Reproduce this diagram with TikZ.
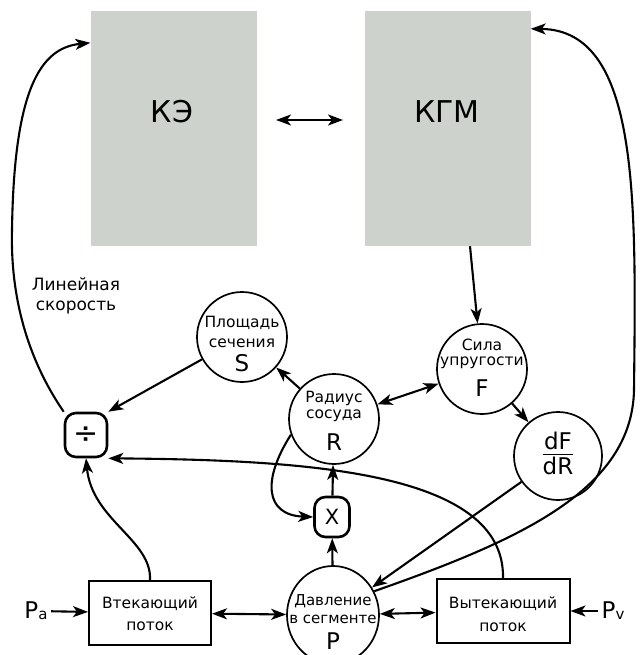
\documentclass[tikz,border=0pt]{standalone}
\usepackage{fontspec}
\setmainfont{DejaVu Sans}
\usetikzlibrary{arrows.meta,shapes.geometric}
\definecolor{boxgray}{RGB}{206,210,204}
\tikzset{
  tip/.tip={Stealth[length=15pt,width=11pt,inset=4pt]},
  conn/.style={line width=2.1pt, -tip},
  dconn/.style={line width=2.1pt, tip-tip},
  circ/.style={circle, draw, line width=1.7pt, minimum size=90pt, inner sep=0pt},
  gbox/.style={fill=boxgray, draw=none, minimum width=166pt, minimum height=235pt, inner sep=0pt},
  flow/.style={rectangle, draw, line width=2pt, minimum width=122pt, minimum height=64pt},
  op/.style={rectangle, rounded corners=11pt, draw, line width=2.6pt, inner sep=0pt},
  txt/.style={inner sep=0pt, font=\fontsize{15.5}{15.5}\selectfont},
  ftxt/.style={inner sep=0pt, font=\fontsize{15.5}{15.5}\selectfont},
  ptxt/.style={inner sep=0pt, font=\fontsize{15}{15}\selectfont},
  letter/.style={inner sep=0pt, font=\fontsize{23}{23}\selectfont},
}
\begin{document}
\begin{tikzpicture}[x=1pt,y=-1pt]
\useasboundingbox (0,0) rectangle (640,655);
% grey boxes
\node[gbox] (KE) at (173.5,128.5) {};
\node[font=\fontsize{30}{30}\selectfont] (KEt) at (172,112) {КЭ};
\node[gbox] (KGM) at (447.5,128.5) {};
\node[font=\fontsize{30}{30}\selectfont] (KGMt) at (447,112) {КГМ};
\coordinate (ke1) at (276,120);
\coordinate (ke2) at (343,120);
\draw[dconn] (ke1) -- (ke2);

% circles
\node[circ] (S) at (242,337) {};
\node[txt] (S1) at (242,323) {Площадь};
\node[txt] (S2) at (242,343) {сечения};
\node[letter] (S3) at (242,363) {S};

\node[circ] (R) at (334,419) {};
\node[txt] (R1) at (334,398) {Радиус};
\node[txt] (R2) at (334,416) {сосуда};
\node[letter] (R3) at (334,442) {R};

\node[circ] (F) at (482,369) {};
\node[txt] (F1) at (482,345) {Сила};
\node[txt] (F2) at (482,363) {упругости};
\node[letter] (F3) at (482,388) {F};

\node[circ, minimum size=88pt] (D) at (558,456) {};
\node[font=\fontsize{23}{23}\selectfont, inner sep=0pt] (Dt) at (558,457)
  {\begin{tabular}{@{}c@{}}dF\\[-3pt]\hline\noalign{\vskip3pt}dR\end{tabular}};

\node[ellipse, draw, line width=1.7pt, minimum width=92pt, minimum height=98pt, inner sep=0pt] (P) at (333,615) {};
\node[ptxt] (P1) at (333,601) {Давление};
\node[ptxt] (P2) at (333,619) {в сегменте};
\node[letter] (P3) at (333,641) {P};

% operator boxes
\node[op, minimum width=42pt, minimum height=44pt, font=\fontsize{30}{30}\selectfont] (DIV) at (86,435) {÷};
\node[op, minimum width=35pt, minimum height=40pt, font=\fontsize{21}{21}\selectfont] (X) at (332,517) {X};

% flow boxes
\node[flow] (IN) at (150,613) {};
\node[ftxt] (IN1) at (150,604) {Втекающий};
\node[ftxt] (IN2) at (150,626) {поток};
\node[flow, minimum width=133pt] (OUT) at (503,611) {};
\node[ftxt] (OUT1) at (503,604) {Вытекающий};
\node[ftxt] (OUT2) at (503,627) {поток};

\node (Pa) at (36,611) {\fontsize{23}{23}\selectfont P\raisebox{-1pt}{\fontsize{15}{15}\selectfont a}};
\node (Pv) at (613,611) {\fontsize{23}{23}\selectfont P\raisebox{-1pt}{\fontsize{15}{15}\selectfont v}};

\node[align=center, font=\fontsize{17}{20}\selectfont] (LS) at (76,296) {Линейная\\скорость};

% connectors
\draw[conn] (Pa) -- (IN);
\draw[conn] (Pv) -- (OUT);
\draw[dconn] (IN) -- (P);
\draw[dconn] (P) -- (OUT);
\draw[conn] (P) -- (X);
\draw[conn] (X) -- (R);
\draw[conn] (R) -- (S);
\draw[dconn] (R) -- (F);
\draw[conn] (F) -- (D);
\draw[conn] (KGM.south -| 470,0) -- (F);
\draw[conn] (S) -- (DIV.north east);
\draw[conn] (D) -- (P);
\draw[conn] (R.200) .. controls (262,480) and (265,515) .. (X.west);
\draw[conn] (IN.north) .. controls (152,540) and (92,520) .. (DIV.south);
\draw[conn] (OUT.north) .. controls (505,470) and (300,460) .. (DIV.south east);
\coordinate (kgmin) at ([yshift=-18pt]KGM.north east);
\coordinate (rt) at (634,390);
\draw[conn] (P.30) .. controls (520,540) and (632,490) .. (rt)
  .. controls (636,200) and (640,30) .. (kgmin);
\coordinate (kein) at ([yshift=-32pt]KE.north west);
\coordinate (lf) at (12,230);
\draw[conn] (DIV.north west) .. controls (35,370) and (10,310) .. (lf)
  .. controls (14,90) and (40,48) .. (kein);
\end{tikzpicture}
\end{document}
